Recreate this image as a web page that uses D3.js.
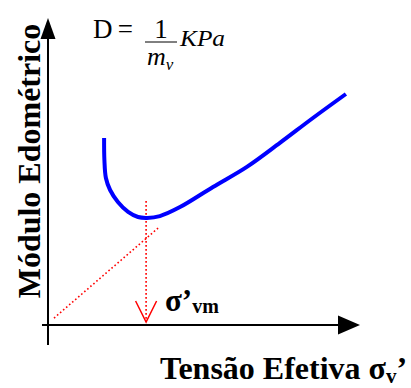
<!DOCTYPE html>
<html>
<head>
<meta charset="utf-8">
<script src="https://cdn.jsdelivr.net/npm/d3@7"></script>
<style>
  html, body { margin: 0; padding: 0; background: #fff; }
  svg { display: block; }
  text { font-family: "Liberation Serif", "Times New Roman", serif; }
</style>
</head>
<body>
<script>
// Oedometric modulus vs effective vertical stress (schematic units)
const curveStress  = [18.7, 18.8, 19.3, 20.7, 23.3, 26.7, 30.0, 33.0, 37.3, 44.0, 55.0, 66.3, 77.3, 88.3, 99.3];
const curveModulus = [62.3, 55.0, 49.0, 45.0, 41.0, 37.7, 36.0, 35.7, 36.3, 39.3, 46.0, 52.7, 60.7, 69.0, 77.0];

// Pre-consolidation stress marker and the tangent construction line
const preconsolidationStress = 32.7;
const markerModulus = [41.3, 1.0];
const tangentStress  = [2.0, 36.7];
const tangentModulus = [2.3, 32.3];

// Axis extents (same units)
const xAxisExtent = [-2, 104];
const yAxisExtent = [-6.7, 102.3];

const W = 411, H = 388;
const svg = d3.select("body").append("svg").attr("width", W).attr("height", H);

const x = d3.scaleLinear().domain([0, 100]).range([48, 348]);
const y = d3.scaleLinear().domain([0, 100]).range([325, 25]);

// Axes with arrowheads
svg.append("line")
  .attr("x1", x(xAxisExtent[0])).attr("x2", x(xAxisExtent[1]) - 18)
  .attr("y1", y(0)).attr("y2", y(0))
  .attr("stroke", "#000").attr("stroke-width", 2);
svg.append("path")
  .attr("d", `M${x(xAxisExtent[1])},${y(0)} L${x(xAxisExtent[1]) - 22},${y(0) - 9.5} L${x(xAxisExtent[1]) - 22},${y(0) + 9.5} Z`)
  .attr("fill", "#000");

svg.append("line")
  .attr("x1", x(0)).attr("x2", x(0))
  .attr("y1", y(yAxisExtent[0])).attr("y2", y(yAxisExtent[1]) + 18)
  .attr("stroke", "#000").attr("stroke-width", 2);
svg.append("path")
  .attr("d", `M${x(0)},${y(yAxisExtent[1])} L${x(0) - 7.5},${y(yAxisExtent[1]) + 21} L${x(0) + 7.5},${y(yAxisExtent[1]) + 21} Z`)
  .attr("fill", "#000");

// Tangent construction line (dotted red)
svg.append("line")
  .attr("x1", x(tangentStress[0])).attr("y1", y(tangentModulus[0]))
  .attr("x2", x(tangentStress[1])).attr("y2", y(tangentModulus[1]))
  .attr("stroke", "#ff0000").attr("stroke-width", 1.6)
  .attr("stroke-dasharray", "1.6,2.4");

// Vertical dotted marker down to the stress axis
svg.append("line")
  .attr("x1", x(preconsolidationStress)).attr("x2", x(preconsolidationStress))
  .attr("y1", y(markerModulus[0])).attr("y2", y(markerModulus[1]))
  .attr("stroke", "#ff0000").attr("stroke-width", 1.6)
  .attr("stroke-dasharray", "1.6,2.4");
svg.append("path")
  .attr("d", `M${x(preconsolidationStress) - 10.5},${y(markerModulus[1]) - 21} L${x(preconsolidationStress)},${y(markerModulus[1])} L${x(preconsolidationStress) + 10.5},${y(markerModulus[1]) - 21}`)
  .attr("fill", "none").attr("stroke", "#ff0000").attr("stroke-width", 1.5);

// Modulus curve
const line = d3.line()
  .x(d => x(d[0])).y(d => y(d[1]))
  .curve(d3.curveCatmullRom.alpha(0.5));
svg.append("path")
  .datum(d3.zip(curveStress, curveModulus))
  .attr("d", line)
  .attr("fill", "none").attr("stroke", "#0000ff").attr("stroke-width", 4)
  .attr("stroke-linecap", "butt");

// σ'vm label
const sv = svg.append("text")
  .attr("x", 165).attr("y", 311)
  .attr("font-weight", "bold").attr("font-size", 31);
sv.append("tspan").text("σ’");
sv.append("tspan").attr("font-size", 20).attr("dy", 2).text("vm");

// Axis titles
const xt = svg.append("text")
  .attr("x", 160).attr("y", 379)
  .attr("font-weight", "bold").attr("font-size", 32);
xt.append("tspan").text("Tensão Efetiva σ");
xt.append("tspan").attr("font-size", 21).attr("dy", 4).text("v");
xt.append("tspan").attr("dy", -4).text("’");

svg.append("text")
  .attr("transform", `translate(40,${161}) rotate(-90)`)
  .attr("text-anchor", "middle")
  .attr("font-weight", "bold").attr("font-size", 32)
  .text("Módulo Edométrico");

// Formula D = (1 / m_v) KPa
svg.append("text").attr("x", 93).attr("y", 38).attr("font-size", 27)
  .attr("textLength", 40).attr("lengthAdjust", "spacing").text("D =");
svg.append("text").attr("x", 161).attr("y", 38).attr("font-size", 27).attr("text-anchor", "middle").text("1");
svg.append("line").attr("x1", 145).attr("x2", 177).attr("y1", 42).attr("y2", 42)
  .attr("stroke", "#000").attr("stroke-width", 1);
const mv = svg.append("text").attr("x", 147).attr("y", 65).attr("font-size", 26).attr("font-style", "italic");
mv.append("tspan").text("m");
mv.append("tspan").attr("font-size", 17).attr("dy", 5).text("v");
svg.append("text").attr("x", 180).attr("y", 46).attr("font-size", 24).attr("font-style", "italic")
  .attr("textLength", 45).attr("lengthAdjust", "spacingAndGlyphs").text("KPa");
</script>
</body>
</html>
